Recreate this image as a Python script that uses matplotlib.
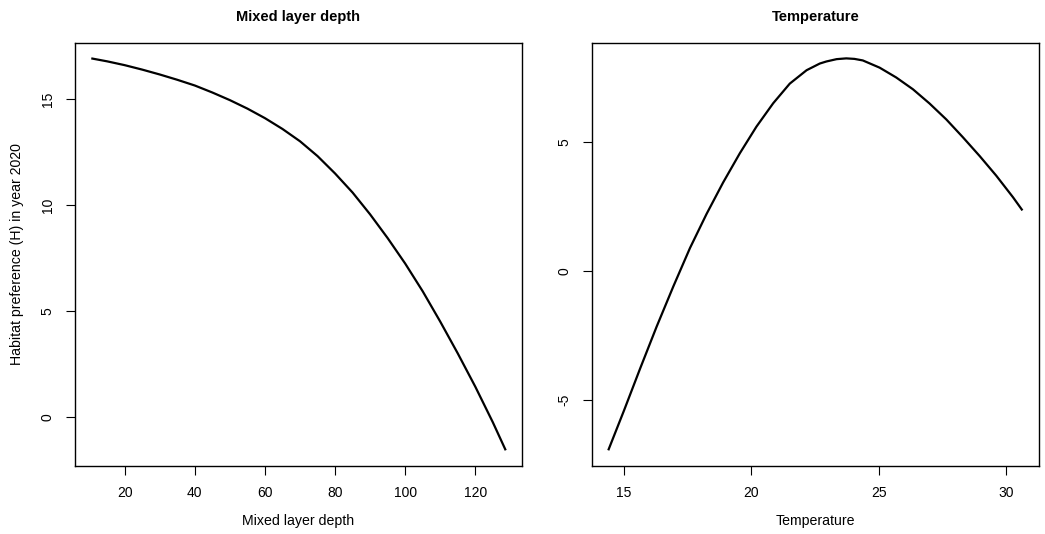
import matplotlib
matplotlib.use("Agg")
import matplotlib.pyplot as plt

plt.rcParams['font.family'] = ['Liberation Sans', 'DejaVu Sans']
plt.rcParams['axes.unicode_minus'] = False

# Panel 1: Mixed layer depth
mld_x = [10.47, 15, 20, 25, 30, 35, 40, 45, 50, 55, 60, 65, 70, 75, 80, 85,
         90, 95, 100, 105, 110, 115, 120, 125, 128.67]
mld_y = [16.92, 16.78, 16.60, 16.39, 16.16, 15.91, 15.64, 15.31, 14.95, 14.55,
         14.10, 13.59, 13.01, 12.31, 11.49, 10.59, 9.56, 8.44, 7.24, 5.93,
         4.50, 3.00, 1.43, -0.25, -1.57]
mld_xticks = [20, 40, 60, 80, 100, 120]
mld_yticks = [0, 5, 10, 15]

# Panel 2: Temperature
temp_x = [14.38, 15.0, 15.63, 16.28, 16.94, 17.59, 18.24, 18.89, 19.55, 20.20,
          20.86, 21.51, 22.17, 22.69, 22.95, 23.35, 23.73, 24.05, 24.38, 25.04,
          25.69, 26.35, 27.00, 27.66, 28.31, 28.97, 29.62, 30.28, 30.65]
temp_y = [-6.95, -5.40, -3.78, -2.15, -0.58, 0.90, 2.22, 3.44, 4.58, 5.61,
          6.52, 7.28, 7.80, 8.06, 8.14, 8.23, 8.26, 8.24, 8.18, 7.90,
          7.52, 7.06, 6.51, 5.89, 5.20, 4.47, 3.71, 2.87, 2.36]
temp_xticks = [15, 20, 25, 30]
temp_yticks = [-5, 0, 5]

titles = ["Mixed layer depth", "Temperature"]
ylabel = "Habitat preference (H) in year 2020"

W, H = 1045, 534
fig = plt.figure(figsize=(W / 100, H / 100), dpi=100)

def frac(x0, y0, x1, y1):
    return [x0 / W, 1 - y1 / H, (x1 - x0) / W, (y1 - y0) / H]

ax1 = fig.add_axes(frac(74.7, 42.7, 522.3, 466))
ax2 = fig.add_axes(frac(591.7, 42.7, 1039, 466))

panels = [
    (ax1, mld_x, mld_y, mld_xticks, mld_yticks, titles[0]),
    (ax2, temp_x, temp_y, temp_xticks, temp_yticks, titles[1]),
]

for ax, xs, ys, xt, yt, title in panels:
    ax.plot(xs, ys, color='black', lw=1.6, solid_joinstyle='round',
            solid_capstyle='butt')
    ax.margins(0.04)
    ax.set_xticks(xt)
    ax.set_yticks(yt)
    ax.set_xticklabels([str(v) for v in xt])
    ax.set_yticklabels([str(v) for v in yt], rotation=90, va='center')
    ax.tick_params(direction='out', length=6.5, width=0.8, labelsize=10,
                   pad=8, colors='black')
    for s in ax.spines.values():
        s.set_linewidth(1.0)
    ax.set_title(title, fontsize=10.5, fontweight='bold', pad=15.5)
    ax.set_xlabel(title, fontsize=10.2, labelpad=10)

ax1.set_ylabel(ylabel, fontsize=10.2, labelpad=12)

fig.savefig("out.png", dpi=100)
